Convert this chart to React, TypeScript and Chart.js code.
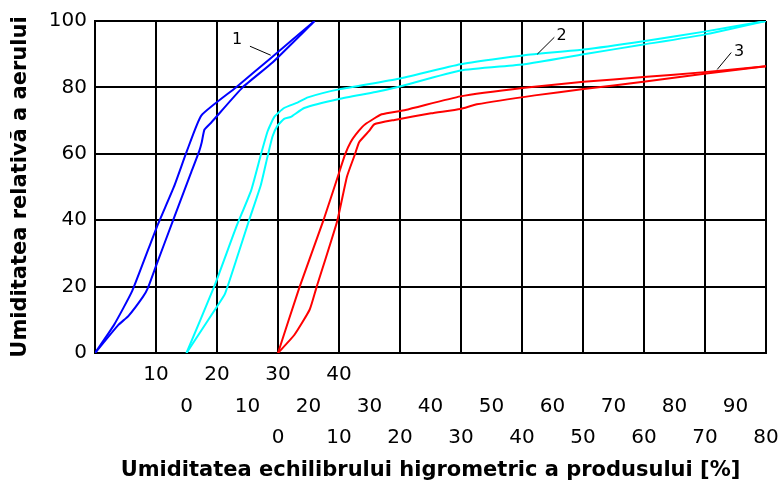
import React, { useEffect, useRef } from 'react';
import { Chart, registerables } from 'chart.js';

Chart.register(...registerables);

// Relative air humidity axis (%)
const rhTicks = [0, 20, 40, 60, 80, 100];
// Three moisture-content scales shown under the plot
const scale1Labels = [10, 20, 30, 40];
const scale2Labels = [0, 10, 20, 30, 40, 50, 60, 70, 80, 90];
const scale3Labels = [0, 10, 20, 30, 40, 50, 60, 70, 80];

// Curve 1 (scale 1) – two branches [moisture, RH]
const curve1A: number[][] = [
  [0, 0], [3.1, 8.4], [6.1, 18.7], [10.1, 37.8], [12.95, 50.1], [15.1, 61],
  [17.45, 71.6], [23.1, 80], [28.8, 88.8], [36, 100],
];
const curve1B: number[][] = [
  [0, 0], [3.8, 8.4], [5.5, 11.2], [7.85, 16.9], [8.7, 19.7], [9.9, 25.7],
  [12.95, 40.7], [15.7, 54.1], [17.1, 60.9], [17.5, 63.5], [17.95, 67.3],
  [19.1, 69.5], [24.2, 80], [29.1, 87.5], [36, 100],
];

// Curve 2 (scale 2)
const curve2A: number[][] = [
  [0, 0], [4.6, 20.3], [8.1, 37.7], [10.6, 49], [12.2, 59.8], [13.3, 66.8],
  [14.4, 71.1], [16, 73.8], [18.2, 75.4], [19.9, 77], [25, 79.4], [34.8, 82.6],
  [44.9, 87], [55.4, 89.7], [65.1, 91.4], [74.9, 93.9], [84.9, 96.8], [95, 100],
];
const curve2B: number[][] = [
  [0, 0], [4.9, 13.7], [6.3, 17.8], [8.1, 27.7], [10.3, 40.2], [12.2, 50.7],
  [13.3, 59.3], [14.1, 65.2], [14.9, 68.4], [16, 70.5], [17.1, 71.1], [19.3, 73.8],
  [25, 76.5], [31, 78.6], [34.8, 80.2], [44.9, 85.1], [55.4, 87], [65.1, 90],
  [74.9, 92.9], [84.9, 95.9], [95, 100],
];

// Curve 3 (scale 3)
const curve3A: number[][] = [
  [0, 0], [3.5, 19.7], [7.4, 39.7], [9.8, 53.1], [11, 59.8], [11.9, 63.5],
  [13.2, 66.8], [14.3, 68.9], [17, 71.9], [20.9, 73.2], [29.9, 77.3], [40.4, 79.9],
  [50.1, 81.7], [59.9, 83.1], [69.9, 84.6], [80, 86.4],
];
const curve3B: number[][] = [
  [0, 0], [2.7, 5.5], [5.2, 13.1], [6.3, 19.7], [9.7, 39.7], [11.3, 53.1],
  [12.6, 59.8], [13.3, 63.5], [14.9, 66.8], [15.8, 68.9], [19.1, 70.2], [25.1, 72.2],
  [29.9, 73.5], [32.6, 74.9], [42.1, 77.6], [50.1, 79.5], [59.9, 81.7], [69.9, 84.1],
  [80, 86.4],
];

const curveNames = ['1', '2', '3'];
const curveAxes = ['x1', 'x2', 'x3'];
const curveColors = ['#0000ff', '#00ffff', '#ff0000'];
// Curve label positions in each curve's own data units [moisture, RH]
const labelAnchors: number[][] = [[23.3, 94.2], [61.5, 95.4], [75.6, 90.7]];
const leaderStarts: number[][] = [[25.4, 92.4], [60.3, 95.1], [74.3, 90.5]];
const leaderEnds: number[][] = [[28.8, 89.7], [57.5, 90], [72, 85.4]];

const FAMILY = "'DejaVu Sans', Verdana, sans-serif";
const tickFont = { family: FAMILY, size: 20 };
const titleFont = { family: FAMILY, size: 21, weight: 'bold' as const };

const toPts = (arr: number[][]) => arr.map(([x, y]) => ({ x, y }));

const curveLabelPlugin = {
  id: 'curveLabels',
  afterDatasetsDraw(chart: any) {
    const ctx = chart.ctx;
    const ys = chart.scales.y;
    ctx.save();
    ctx.strokeStyle = '#000';
    ctx.lineWidth = 1;
    ctx.fillStyle = '#000';
    ctx.font = `16px ${FAMILY}`;
    ctx.textAlign = 'center';
    ctx.textBaseline = 'middle';
    curveNames.forEach((name, i) => {
      const xs = chart.scales[curveAxes[i]];
      ctx.beginPath();
      ctx.moveTo(xs.getPixelForValue(leaderStarts[i][0]), ys.getPixelForValue(leaderStarts[i][1]));
      ctx.lineTo(xs.getPixelForValue(leaderEnds[i][0]), ys.getPixelForValue(leaderEnds[i][1]));
      ctx.stroke();
      ctx.fillText(name, xs.getPixelForValue(labelAnchors[i][0]), ys.getPixelForValue(labelAnchors[i][1]));
    });
    ctx.restore();
  },
};

const fixedTicks = (values: number[]) => (s: any) => {
  s.ticks = values.map((v) => ({ value: v }));
};

export default function App() {
  const ref = useRef<HTMLCanvasElement>(null);

  useEffect(() => {
    document.body.style.margin = '0';
    const series = [curve1A, curve1B, curve2A, curve2B, curve3A, curve3B];
    const datasets = series.map((s, i) => {
      const c = Math.floor(i / 2);
      return {
        label: `${curveNames[c]}${i % 2 === 0 ? 'a' : 'b'}`,
        data: toPts(s),
        xAxisID: curveAxes[c],
        yAxisID: 'y',
        borderColor: curveColors[c],
        backgroundColor: curveColors[c],
        borderWidth: 2,
        pointRadius: 0,
        fill: false,
        tension: 0.15,
      };
    });

    const chart = new Chart(ref.current!, {
      type: 'line',
      data: { datasets },
      plugins: [curveLabelPlugin],
      options: {
        animation: false,
        responsive: false,
        devicePixelRatio: 1,
        layout: { padding: { top: 21, right: 13, bottom: 0, left: 0 } },
        plugins: { legend: { display: false }, tooltip: { enabled: false } },
        scales: {
          x1: {
            type: 'linear',
            position: 'bottom',
            min: 0,
            max: 110,
            afterFit: (s: any) => { s.height = 31; s.paddingLeft = 0; s.paddingRight = 0; },
            grid: { color: '#000', lineWidth: 2, drawTicks: false },
            border: { display: true, color: '#000', width: 2 },
            ticks: {
              stepSize: 10,
              autoSkip: false,
              maxRotation: 0,
              padding: 10,
              color: '#000',
              font: tickFont,
              callback: (v: any) => (scale1Labels.includes(Number(v)) ? String(v) : ''),
            },
          },
          x2: {
            type: 'linear',
            position: 'bottom',
            min: -15,
            max: 95,
            afterBuildTicks: fixedTicks(scale2Labels),
            afterFit: (s: any) => { s.height = 32; s.paddingLeft = 0; s.paddingRight = 0; },
            grid: { display: false, drawTicks: false },
            border: { display: false },
            ticks: { autoSkip: false, maxRotation: 0, padding: 11, color: '#000', font: tickFont },
          },
          x3: {
            type: 'linear',
            position: 'bottom',
            min: -30,
            max: 80,
            afterBuildTicks: fixedTicks(scale3Labels),
            afterFit: (s: any) => { s.height = 67; s.paddingLeft = 0; s.paddingRight = 0; },
            grid: { display: false, drawTicks: false },
            border: { display: false },
            ticks: { autoSkip: false, maxRotation: 0, padding: 10, color: '#000', font: tickFont },
            title: {
              display: true,
              text: 'Umiditatea echilibrului higrometric a produsului [%]',
              color: '#000',
              font: titleFont,
              padding: { top: 0, bottom: 0 },
            },
          },
          y: {
            type: 'linear',
            position: 'left',
            min: 0,
            max: 100,
            afterBuildTicks: fixedTicks(rhTicks),
            afterFit: (s: any) => { s.width = 95; s.paddingTop = 0; s.paddingBottom = 0; },
            grid: { color: '#000', lineWidth: 2, drawTicks: false },
            border: { display: true, color: '#000', width: 2 },
            ticks: { padding: 8, color: '#000', font: tickFont },
            title: {
              display: true,
              text: 'Umiditatea relativă a aerului',
              color: '#000',
              font: titleFont,
              padding: { top: 8, bottom: 0 },
            },
          },
        },
      },
    } as any);
    return () => chart.destroy();
  }, []);

  return (
    <div style={{ width: 779, height: 483 }}>
      <canvas ref={ref} width={779} height={483} style={{ display: 'block' }} />
    </div>
  );
}
